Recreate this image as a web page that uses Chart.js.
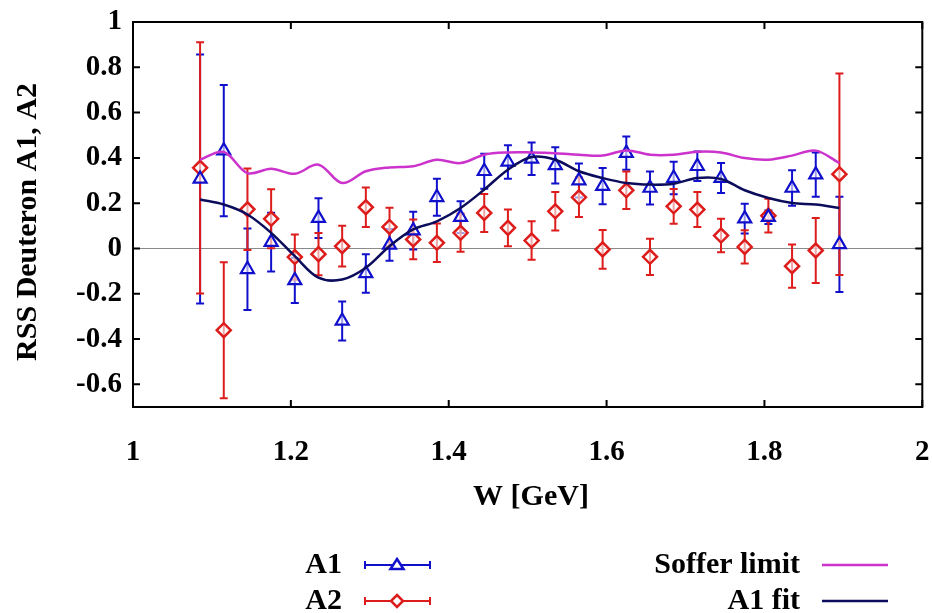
<!DOCTYPE html>
<html>
<head>
<meta charset="utf-8">
<script src="https://cdn.jsdelivr.net/npm/chart.js@4.4.0/dist/chart.umd.min.js"></script>
<style>
  body { margin: 0; background: #fff; }
  #wrap { width: 932px; height: 613px; }
</style>
</head>
<body>
<div id="wrap"><canvas id="myChart" width="932" height="613"></canvas></div>
<script>
// W [GeV] of every bin
const W = [1.085, 1.115, 1.145, 1.175, 1.205, 1.235, 1.265, 1.295, 1.325, 1.355,
  1.385, 1.415, 1.445, 1.475, 1.505, 1.535, 1.565, 1.595, 1.625, 1.655,
  1.685, 1.715, 1.745, 1.775, 1.805, 1.835, 1.865, 1.895];

const A1 = [0.307, 0.432, -0.092, 0.028, -0.141, 0.134, -0.32, -0.11, 0.016, 0.079,
  0.226, 0.138, 0.341, 0.382, 0.396, 0.367, 0.30, 0.275, 0.421, 0.267,
  0.311, 0.363, 0.311, 0.132, 0.138, 0.267, 0.326, 0.018];
const A1err = [0.55, 0.29, 0.18, 0.13, 0.10, 0.088, 0.086, 0.085, 0.07, 0.083,
  0.082, 0.07, 0.077, 0.074, 0.072, 0.08, 0.075, 0.08, 0.073, 0.073,
  0.072, 0.065, 0.066, 0.066, 0.03, 0.078, 0.098, 0.21];

const A2 = [0.356, -0.361, 0.173, 0.131, -0.038, -0.025, 0.01, 0.182, 0.095, 0.04,
  0.025, 0.069, 0.157, 0.091, 0.035, 0.164, 0.226, -0.004, 0.257, -0.037,
  0.186, 0.172, 0.057, 0.007, 0.145, -0.078, -0.009, 0.328];
const A2err = [0.555, 0.30, 0.18, 0.13, 0.10, 0.093, 0.09, 0.087, 0.085, 0.088,
  0.085, 0.084, 0.084, 0.081, 0.085, 0.085, 0.087, 0.086, 0.083, 0.08,
  0.077, 0.077, 0.074, 0.073, 0.075, 0.095, 0.143, 0.445];

const soffer = [0.392, 0.426, 0.333, 0.352, 0.33, 0.37, 0.289, 0.341, 0.358, 0.363,
  0.392, 0.377, 0.414, 0.424, 0.424, 0.421, 0.414, 0.41, 0.433, 0.414,
  0.414, 0.427, 0.424, 0.399, 0.392, 0.41, 0.432, 0.377];

const a1fit = [0.216, 0.194, 0.15, 0.069, -0.034, -0.129, -0.137, -0.085, 0.01, 0.084,
  0.12, 0.179, 0.26, 0.348, 0.404, 0.392, 0.341, 0.311, 0.289, 0.282,
  0.286, 0.311, 0.307, 0.257, 0.223, 0.201, 0.194, 0.179];

const xTicks = [1, 1.2, 1.4, 1.6, 1.8, 2];
const yTicks = [-0.6, -0.4, -0.2, 0, 0.2, 0.4, 0.6, 0.8, 1];

const BLUE = "#1010cc";
const RED = "#dd1c1c";
const MAGENTA = "#cc33cc";
const NAVY = "#0c0c5c";
const FONT = "'Liberation Serif', 'Times New Roman', serif";

function pts(ys) {
  return W.map(function (w, i) { return { x: w, y: ys[i] }; });
}

// error bars drawn under the markers
const errorBars = {
  id: "errorBars",
  beforeDatasetsDraw(chart) {
    const ctx = chart.ctx;
    const xs = chart.scales.x, ys = chart.scales.y;
    const sets = [[A1, A1err, BLUE], [A2, A2err, RED]];
    ctx.save();
    sets.forEach(function (s) {
      ctx.strokeStyle = s[2];
      ctx.lineWidth = 2;
      s[0].forEach(function (v, i) {
        const px = xs.getPixelForValue(W[i]);
        const top = ys.getPixelForValue(v + s[1][i]);
        const bot = ys.getPixelForValue(v - s[1][i]);
        ctx.beginPath();
        ctx.moveTo(px, top); ctx.lineTo(px, bot);
        ctx.moveTo(px - 4, top); ctx.lineTo(px + 4, top);
        ctx.moveTo(px - 4, bot); ctx.lineTo(px + 4, bot);
        ctx.stroke();
      });
    });
    ctx.restore();
  },
};

// frame, inward ticks, axis titles and the key
const decor = {
  id: "decor",
  afterDraw(chart) {
    const ctx = chart.ctx;
    const a = chart.chartArea;
    const xs = chart.scales.x, ys = chart.scales.y;
    ctx.save();
    ctx.strokeStyle = "#000";
    ctx.lineWidth = 2;
    ctx.strokeRect(a.left, a.top, a.right - a.left, a.bottom - a.top);
    ctx.beginPath();
    xTicks.forEach(function (t) {
      const px = xs.getPixelForValue(t);
      ctx.moveTo(px, a.bottom); ctx.lineTo(px, a.bottom - 7);
      ctx.moveTo(px, a.top); ctx.lineTo(px, a.top + 7);
    });
    yTicks.forEach(function (t) {
      const py = ys.getPixelForValue(t);
      ctx.moveTo(a.left, py); ctx.lineTo(a.left + 7, py);
      ctx.moveTo(a.right, py); ctx.lineTo(a.right - 7, py);
    });
    ctx.stroke();

    ctx.fillStyle = "#000";
    ctx.font = "bold 30px " + FONT;
    ctx.textAlign = "center";
    ctx.textBaseline = "middle";
    ctx.fillText("W [GeV]", 531, 497);
    ctx.save();
    ctx.translate(28, 222);
    ctx.rotate(-Math.PI / 2);
    ctx.fillText("RSS Deuteron A1, A2", 0, 0);
    ctx.restore();

    // key
    ctx.textAlign = "right";
    ctx.fillText("A1", 342, 565);
    ctx.fillText("A2", 342, 601);
    ctx.fillText("Soffer limit", 800, 565);
    ctx.fillText("A1 fit", 800, 601);

    [[565, BLUE, "tri"], [601, RED, "dia"]].forEach(function (k) {
      const y = k[0];
      ctx.strokeStyle = k[1];
      ctx.lineWidth = 2;
      ctx.beginPath();
      ctx.moveTo(365, y); ctx.lineTo(430, y);
      ctx.moveTo(365, y - 4); ctx.lineTo(365, y + 4);
      ctx.moveTo(430, y - 4); ctx.lineTo(430, y + 4);
      ctx.stroke();
      ctx.fillStyle = "#fff";
      ctx.beginPath();
      if (k[2] === "tri") {
        ctx.moveTo(397, y - 6); ctx.lineTo(403.5, y + 4); ctx.lineTo(390.5, y + 4);
      } else {
        ctx.moveTo(397, y - 6); ctx.lineTo(403, y); ctx.lineTo(397, y + 6); ctx.lineTo(391, y);
      }
      ctx.closePath();
      ctx.fill();
      ctx.lineWidth = 2.5;
      ctx.stroke();
    });
    [[565, MAGENTA], [601, NAVY]].forEach(function (k) {
      ctx.strokeStyle = k[1];
      ctx.lineWidth = 2.5;
      ctx.beginPath();
      ctx.moveTo(822, k[0]); ctx.lineTo(888, k[0]);
      ctx.stroke();
    });
    ctx.restore();
  },
};

const ctx = document.querySelector("#myChart");
const chart = new Chart(ctx, {
  type: "scatter",
  data: {
    datasets: [
      {
        label: "Soffer limit",
        data: pts(soffer),
        showLine: true,
        borderColor: MAGENTA,
        borderWidth: 2.5,
        pointRadius: 0,
        tension: 0.35,
      },
      {
        label: "A1 fit",
        data: pts(a1fit),
        showLine: true,
        borderColor: NAVY,
        borderWidth: 2.5,
        pointRadius: 0,
        tension: 0.35,
      },
      {
        label: "A1",
        data: pts(A1),
        pointStyle: "triangle",
        pointRadius: 7.5,
        borderColor: BLUE,
        backgroundColor: "rgba(255,255,255,0.6)",
        borderWidth: 2.2,
      },
      {
        label: "A2",
        data: pts(A2),
        pointStyle: "rectRot",
        pointRadius: 7,
        borderColor: RED,
        backgroundColor: "rgba(255,255,255,0.6)",
        borderWidth: 2.5,
      },
    ],
  },
  options: {
    responsive: false,
    animation: false,
    layout: { padding: { left: 0, right: 6, top: 22, bottom: 0 } },
    plugins: { legend: { display: false }, tooltip: { enabled: false } },
    scales: {
      x: {
        type: "linear",
        min: 1,
        max: 2,
        afterBuildTicks(s) { s.ticks = xTicks.map(function (v) { return { value: v }; }); },
        afterFit(s) { s.height = 206; s.paddingLeft = 0; s.paddingRight = 0; },
        grid: { display: false },
        border: { display: false },
        ticks: {
          padding: 20,
          maxRotation: 0,
          color: "#000",
          font: { family: FONT, size: 29, weight: "bold" },
          callback(v) { return String(Number(v.toFixed(1))); },
        },
      },
      y: {
        min: -0.7,
        max: 1,
        afterBuildTicks(s) { s.ticks = yTicks.map(function (v) { return { value: v }; }); },
        afterFit(s) { s.width = 133; s.paddingTop = 0; s.paddingBottom = 0; },
        border: { display: false },
        grid: {
          drawTicks: false,
          lineWidth: 1,
          color(c) { return c.tick && c.tick.value === 0 ? "#8a8a8a" : "rgba(0,0,0,0)"; },
        },
        ticks: {
          padding: 11,
          color: "#000",
          font: { family: FONT, size: 29, weight: "bold" },
          callback(v) { return String(Number(v.toFixed(1))); },
        },
      },
    },
  },
  plugins: [errorBars, decor],
});
</script>
</body>
</html>
